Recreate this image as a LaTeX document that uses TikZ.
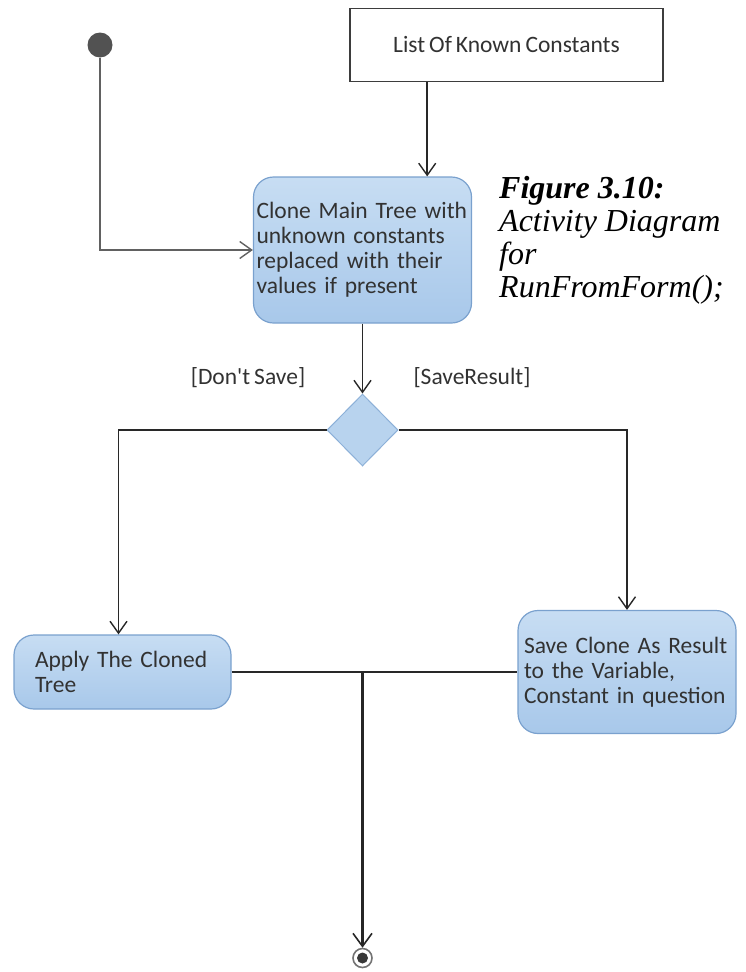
\documentclass[tikz,border=0pt]{standalone}
\usepackage{fontspec}
\setmainfont{Carlito}[WordSpace=0.75]
\newfontfamily\capfont{Liberation Serif}
\usetikzlibrary{arrows.meta,shapes.geometric}
\definecolor{acttop}{RGB}{199,221,243}
\definecolor{actbot}{RGB}{168,200,234}
\definecolor{actedge}{RGB}{122,161,206}
\definecolor{decfill}{RGB}{184,211,238}
\definecolor{decedge}{RGB}{140,176,216}
\definecolor{ink}{RGB}{50,50,50}
\definecolor{wire}{RGB}{40,40,40}
\tikzset{
  action/.style={rectangle, rounded corners=20pt, draw=actedge, line width=1.2pt,
    top color=acttop, bottom color=actbot, text=ink, align=left,
    font=\fontsize{23.5}{25}\selectfont, inner ysep=0pt},
  objbox/.style={rectangle, draw=wire!90, line width=1.6pt, fill=white, text=ink,
    font=\fontsize{23.5}{25}\selectfont, inner sep=0pt},
  decision/.style={diamond, draw=decedge, line width=1pt, fill=decfill, inner sep=0pt,
    minimum width=71pt, minimum height=72pt},
  guard/.style={text=ink, font=\fontsize{23.5}{25}\selectfont, inner sep=0pt},
  startdot/.style={circle, fill=black!68, inner sep=0pt, minimum size=25pt},
  barb/.style={-{Straight Barb[length=12pt,width=17pt,line width=1.4pt]}},
  flow/.style={barb, draw=wire, line width=1.5pt},
  plain/.style={draw=wire, line width=1.5pt},
  caption/.style={font=\capfont\itshape\fontsize{32}{33}\selectfont, align=left,
    inner sep=0pt, anchor=north west}
}
\begin{document}
\begin{tikzpicture}[x=1pt,y=-1pt]
\useasboundingbox (0,0) rectangle (745,972);

% nodes
\node[startdot] (start) at (100,45) {};
\node[objbox, minimum width=313pt, minimum height=73pt] (list) at (506.5,45)
  {List Of Known Constants};
\node[action, minimum height=146pt, text width=212pt, inner xsep=3pt] (clone) at (362.5,250)
  {Clone Main Tree with\\unknown constants\\replaced with their\\values if present};
\node[decision] (dec) at (362.5,430) {};
\node[guard] (gno) at (248,378) {[Don\textquotesingle t Save]};
\node[guard] (gyes) at (472,378) {[SaveResult]};
\node[action, minimum height=74pt, text width=175pt, inner xsep=21pt] (apply) at (122.5,672)
  {Apply The Cloned\\Tree};
\node[action, minimum height=123pt, text width=206pt, inner xsep=6pt] (save) at (627,672)
  {Save Clone As Result\\to the Variable,\\Constant in question};
\node[circle, draw=black!55, line width=1.6pt, fill=white, inner sep=0pt,
  minimum size=19pt] (final) at (362.5,958) {};
\fill[black!78] (final.center) circle (5.5pt);

\node[caption] (cap) at (499,176)
  {\bfseries Figure 3.10:\\Activity Diagram\\for\\RunFromForm();};

% connectors
\draw[barb, draw=black!62, line width=2pt] (start.south) |- (clone.west);
\draw[flow] ([xshift=78pt]list.south west) -- ([xshift=78pt]list.south west |- clone.north);
\draw[flow] (clone.south) -- (dec.north);
\draw[flow] (dec.west) -| ([xshift=-4pt]apply.north);
\draw[flow] (dec.east) -| (save.north);
\draw[plain] (apply.east) -- (save.west);
\coordinate (join) at (apply.east -| final.north);
\draw[-{Straight Barb[length=13pt,width=19pt,line width=1.6pt]}, draw=black!85, line width=3pt]
  (join) -- (final.north);
\end{tikzpicture}
\end{document}
